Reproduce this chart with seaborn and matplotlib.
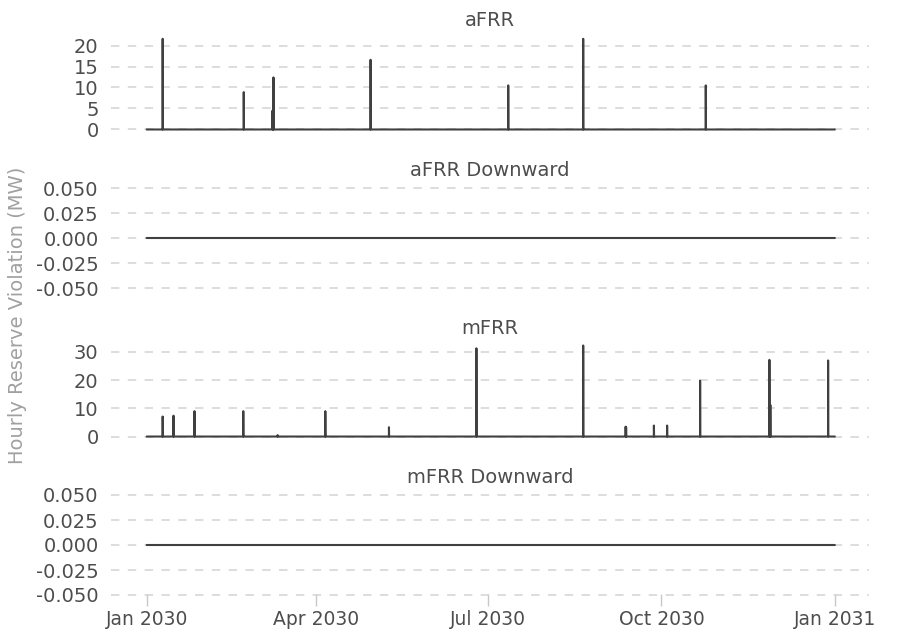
import numpy as np
import pandas as pd
import matplotlib
matplotlib.use("Agg")
import matplotlib.pyplot as plt
import matplotlib.dates as mdates
import seaborn as sns

# ---- data ----
afrr_times = ["2030-01-09 12:00", "2030-02-21 12:00", "2030-03-08 18:00", "2030-03-09 06:00",
              "2030-04-29 18:00", "2030-07-11 18:00", "2030-08-20 12:00", "2030-10-24 12:00"]
afrr_values = [21.6, 8.9, 4.5, 12.4, 16.6, 10.5, 21.6, 10.5]

mfrr_times = ["2030-01-09 12:00", "2030-01-15 06:00", "2030-01-26 09:00", "2030-02-21 06:00",
              "2030-03-11 12:00", "2030-04-05 18:00", "2030-05-09 12:00", "2030-06-24 21:00",
              "2030-08-20 12:00", "2030-09-12 00:00", "2030-09-12 06:00", "2030-09-27 00:00",
              "2030-10-04 00:00", "2030-10-21 12:00", "2030-11-27 06:00", "2030-11-27 18:00",
              "2030-12-28 09:00"]
mfrr_values = [7.1, 7.4, 9.0, 9.0, 0.5, 9.0, 3.3, 31.3, 32.3, 3.5, 3.3, 3.9, 3.9, 19.8, 27.2, 11.2, 27.0]

afrr_down_values = []   # all zero
mfrr_down_values = []   # all zero

panel_titles = ["aFRR", "aFRR Downward", "mFRR", "mFRR Downward"]
ylabel = "Hourly Reserve Violation (MW)"

hours = pd.date_range("2030-01-01 00:00", "2030-12-31 23:00", freq="h")


def series(times, values):
    s = pd.Series(0.0, index=hours)
    for t, v in zip(times, values):
        s[pd.Timestamp(t)] = v
    return pd.DataFrame({"time": hours, "value": s.values})


frames = [series(afrr_times, afrr_values), series([], afrr_down_values),
          series(mfrr_times, mfrr_values), series([], mfrr_down_values)]

sns.set_theme(style="white")
plt.rcParams["font.family"] = ["DejaVu Sans"]

W, H = 897, 633
fig = plt.figure(figsize=(W / 100, H / 100), dpi=100)

# pixel layout: (top, bottom) for each panel
left_px, right_px = 111, 869
panels_px = [(32.5, 134.1), (183, 293), (340.7, 441.1), (490, 600)]
ylims = [(-1.1, 23.1), (-0.055, 0.055), (-1.62, 34.0), (-0.055, 0.055)]
yticks = [[0, 5, 10, 15, 20], [-0.05, -0.025, 0, 0.025, 0.05], [0, 10, 20, 30],
          [-0.05, -0.025, 0, 0.025, 0.05]]

text_col = "#4d4d4d"
fs = 14
axes = []
for i, (df, (top, bot)) in enumerate(zip(frames, panels_px)):
    ax = fig.add_axes([left_px / W, 1 - bot / H, (right_px - left_px) / W, (bot - top) / H])
    sns.lineplot(data=df, x="time", y="value", ax=ax, color="#404040", linewidth=1.5,
                 estimator=None)
    ax.set_ylim(*ylims[i])
    ax.set_xlim(pd.Timestamp("2030-01-01") - pd.Timedelta(days=18.9),
                pd.Timestamp("2030-12-31 23:00") + pd.Timedelta(days=18.1))
    ax.set_yticks(yticks[i])
    if i in (1, 3):
        ax.set_yticklabels([f"{v:.3f}" for v in yticks[i]])
    ax.grid(axis="y", color="#d3d3d3", linestyle=(0, (5.5, 5.5)), linewidth=1.1)
    ax.grid(axis="x", visible=False)
    for sp in ax.spines.values():
        sp.set_visible(False)
    ax.set_xlabel("")
    ax.set_ylabel("")
    ax.set_title(panel_titles[i], fontsize=fs, color=text_col, pad=5)
    ax.tick_params(axis="y", length=0, pad=9, labelsize=fs, labelcolor=text_col)
    ax.xaxis.set_major_locator(mdates.MonthLocator(bymonth=[1, 4, 7, 10]))
    ax.xaxis.set_major_formatter(mdates.DateFormatter("%b %Y"))
    if i < 3:
        ax.tick_params(axis="x", bottom=False, labelbottom=False)
    else:
        ax.tick_params(axis="x", bottom=True, length=8, width=1, color="#c8c8c8",
                       labelsize=13.5, labelcolor=text_col, pad=3.2, direction="inout")
    axes.append(ax)

fig.text(18 / W, 1 - 315 / H, ylabel, rotation=90, ha="center", va="center",
         fontsize=fs, color="#a0a0a0")

fig.savefig("out.png", dpi=100)
